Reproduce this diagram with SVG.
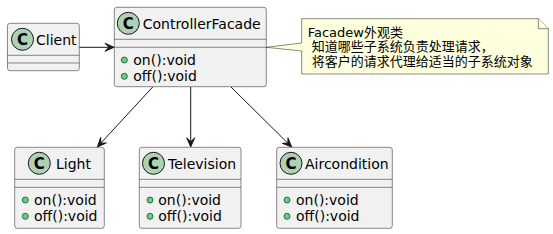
<svg xmlns="http://www.w3.org/2000/svg" width="553" height="234" viewBox="0 0 553 234">
<style>
.box{fill:#F1F1F1;stroke:#181818;stroke-width:0.5}
.sep{stroke:#181818;stroke-width:0.5}
.circ{fill:#ADD1B2;stroke:#181818;stroke-width:1}
.cl{font-family:"DejaVu Sans",sans-serif;font-size:15px;font-weight:bold;fill:#000;text-anchor:middle}
.name{font-family:"DejaVu Sans",sans-serif;font-size:14px;fill:#000}
.m{font-family:"DejaVu Sans",sans-serif;font-size:14px;fill:#000}
.vis{fill:#84BE84;stroke:#038048;stroke-width:1}
.edge{stroke:#181818;stroke-width:1;fill:none}
.note{fill:#FEFFDD;stroke:#181818;stroke-width:0.5}
.nt{font-family:"DejaVu Sans","Noto Sans CJK SC",sans-serif;font-size:13px;fill:#000}
</style>
<defs>
<marker id="arr" markerUnits="userSpaceOnUse" markerWidth="12" markerHeight="10" viewBox="-10 -5 12 10" refX="0" refY="0" orient="auto">
<path d="M0,0 L-9,-4 L-5,0 L-9,4 Z" fill="#181818" stroke="#181818" stroke-width="1"/>
</marker>
</defs>
<g id="connectors">
<line class="edge" x1="79.3" y1="47.3" x2="114" y2="47.3" marker-end="url(#arr)"/>
<line class="edge" x1="152.7" y1="87" x2="97.5" y2="146.8" marker-end="url(#arr)"/>
<line class="edge" x1="190.7" y1="87" x2="190.7" y2="146.8" marker-end="url(#arr)"/>
<line class="edge" x1="231" y1="87" x2="291.5" y2="146.8" marker-end="url(#arr)"/>
</g>
<g id="Client">
<rect class="box" x="7.5" y="23.3" width="71.8" height="47.4" rx="2.5"/>
<line class="sep" x1="7.5" y1="55.3" x2="79.3" y2="55.3"/>
<line class="sep" x1="7.5" y1="63" x2="79.3" y2="63"/>
<circle class="circ" cx="22.5" cy="39.3" r="11"/>
<text class="cl" x="22.5" y="44.6">C</text>
<text class="name" x="36" y="44.8">Client</text>
</g>
<g id="ControllerFacade">
<rect class="box" x="114.3" y="7.3" width="152" height="79.4" rx="2.5"/>
<line class="sep" x1="114.3" y1="39.3" x2="266.3" y2="39.3"/>
<line class="sep" x1="114.3" y1="47.3" x2="266.3" y2="47.3"/>
<circle class="circ" cx="128.3" cy="23.3" r="11"/>
<text class="cl" x="128.3" y="28.6">C</text>
<text class="name" x="142.7" y="28.8">ControllerFacade</text>
<circle class="vis" cx="124.3" cy="60" r="3"/>
<text class="m" x="133.3" y="64.5">on():void</text>
<circle class="vis" cx="124.3" cy="76.3" r="3"/>
<text class="m" x="133.3" y="80.8">off():void</text>
</g>
<g id="Light">
<rect class="box" x="14.7" y="147.3" width="89.6" height="81" rx="2.5"/>
<line class="sep" x1="14.7" y1="179.3" x2="104.3" y2="179.3"/>
<line class="sep" x1="14.7" y1="187.3" x2="104.3" y2="187.3"/>
<circle class="circ" cx="39.3" cy="163.3" r="11"/>
<text class="cl" x="39.3" y="168.6">C</text>
<text class="name" x="56" y="168.8">Light</text>
<circle class="vis" cx="25.3" cy="200" r="3"/>
<text class="m" x="34" y="204.5">on():void</text>
<circle class="vis" cx="25.3" cy="216.3" r="3"/>
<text class="m" x="34" y="220.8">off():void</text>
</g>
<g id="Television">
<rect class="box" x="139.3" y="147.3" width="101.7" height="81" rx="2.5"/>
<line class="sep" x1="139.3" y1="179.3" x2="241" y2="179.3"/>
<line class="sep" x1="139.3" y1="187.3" x2="241" y2="187.3"/>
<circle class="circ" cx="153.5" cy="163.3" r="11"/>
<text class="cl" x="153.5" y="168.6">C</text>
<text class="name" x="168" y="168.8">Television</text>
<circle class="vis" cx="150" cy="200" r="3"/>
<text class="m" x="158.3" y="204.5">on():void</text>
<circle class="vis" cx="150" cy="216.3" r="3"/>
<text class="m" x="158.3" y="220.8">off():void</text>
</g>
<g id="Aircondition">
<rect class="box" x="276.7" y="147.3" width="115.6" height="81" rx="2.5"/>
<line class="sep" x1="276.7" y1="179.3" x2="392.3" y2="179.3"/>
<line class="sep" x1="276.7" y1="187.3" x2="392.3" y2="187.3"/>
<circle class="circ" cx="291" cy="163.3" r="11"/>
<text class="cl" x="291" y="168.6">C</text>
<text class="name" x="305" y="168.8">Aircondition</text>
<circle class="vis" cx="287" cy="200" r="3"/>
<text class="m" x="296" y="204.5">on():void</text>
<circle class="vis" cx="287" cy="216.3" r="3"/>
<text class="m" x="296" y="220.8">off():void</text>
</g>
<g id="note">
<path class="note" d="M301.7,18.7 L301.7,43 L266.3,47.3 L301.7,51 L301.7,74 L548.3,74 L548.3,28.7 L538.3,18.7 Z"/>
<path class="note" d="M538.3,18.7 L538.3,28.7 L548.3,28.7"/>
<text class="nt" x="307.7" y="36.5">Facadew外观类</text>
<text class="nt" x="307.7" y="51" xml:space="preserve"> 知道哪些子系统负责处理请求，</text>
<text class="nt" x="307.7" y="65.5" xml:space="preserve"> 将客户的请求代理给适当的子系统对象</text>
</g>
</svg>
